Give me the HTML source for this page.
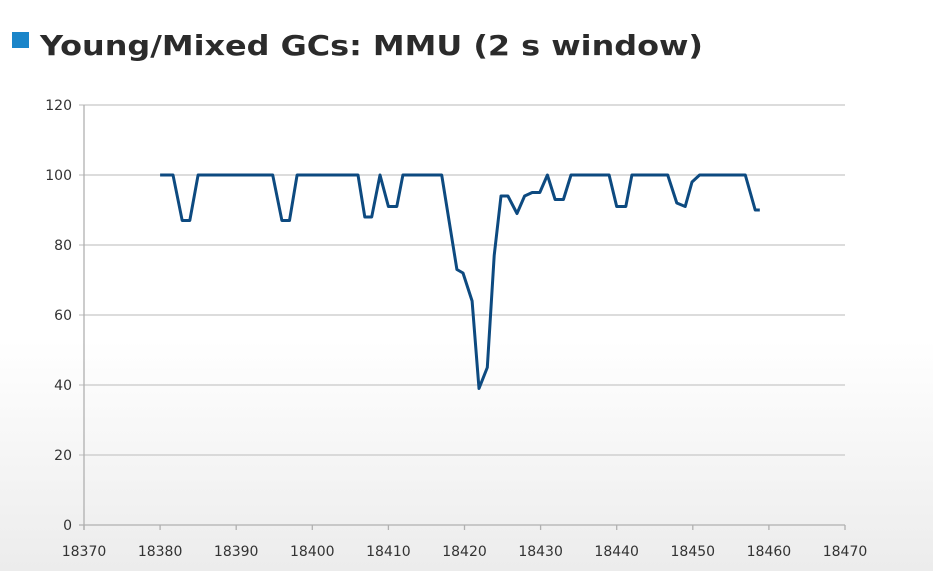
<!DOCTYPE html>
<html><head><meta charset="utf-8"><style>
html,body{margin:0;padding:0;}
body{width:933px;height:571px;overflow:hidden;background:linear-gradient(#fff 0,#fff 340px,#ececec 571px);}
svg{display:block}
</style></head><body>
<svg width="933" height="571">
<rect x="12" y="32" width="17" height="16" fill="#1a85c9"/>
<text x="40" y="55" font-family="DejaVu Sans, Liberation Sans, sans-serif" font-weight="bold" font-size="28" fill="#2b2b2b" textLength="663" lengthAdjust="spacingAndGlyphs">Young/Mixed GCs: MMU (2 s window)</text>
<g id="grid"></g>
<g id="axes"></g>
<path id="line" fill="none" stroke="#0d4a80" stroke-width="3" stroke-linejoin="round"/>
</svg>
<script>
const xVals=[18380,18381.7,18382.9,18383.9,18385,18394.8,18396,18397,18398,18406,18406.9,18407.8,18408.9,18410,18411.1,18411.9,18417,18419,18419.8,18421,18421.9,18423,18423.9,18424.8,18425.7,18426.9,18427.9,18428.9,18429.9,18430.9,18431.9,18433,18434,18439,18440,18441.2,18442,18446.7,18447.9,18449,18449.9,18450.9,18456.9,18458.2,18458.8];
const yVals=[100,100,87,87,100,100,87,87,100,100,88,88,100,91,91,100,100,73,72,64,39,45,77,94,94,89,94,95,95,100,93,93,100,100,91,91,100,100,92,91,98,100,100,90,90];
const xTicks=[18370,18380,18390,18400,18410,18420,18430,18440,18450,18460,18470];
const yTicks=[0,20,40,60,80,100,120];
const X0=84,X1=845,Y0=525,Y1=105;
const sx=v=>X0+(v-18370)/100*(X1-X0);
const sy=v=>Y0-(v/120)*(Y0-Y1);
const NS='http://www.w3.org/2000/svg';
const grid=document.getElementById('grid'),axes=document.getElementById('axes');
function mk(t,a,p){const e=document.createElementNS(NS,t);for(const k in a)e.setAttribute(k,a[k]);p.appendChild(e);return e;}
yTicks.forEach(v=>{
 const l=mk('line',{x1:X0-5,x2:X1,y1:sy(v),y2:sy(v),stroke:v===0?'#b0b0b0':'#c8c8c8','stroke-width':1.3},grid);
 
 
 const t=mk('text',{x:X0-12,y:sy(v)+5,'text-anchor':'end','font-family':'DejaVu Sans, Liberation Sans, sans-serif','font-size':14,fill:'#333'},axes);
 t.textContent=v;
 
 
});
const ya=mk('line',{x1:X0,x2:X0,y1:Y1,y2:Y0+5,stroke:'#b0b0b0','stroke-width':1.3},axes);


xTicks.forEach(v=>{
 const l=mk('line',{x1:sx(v),x2:sx(v),y1:Y0,y2:Y0+5,stroke:'#b0b0b0','stroke-width':1.3},axes);
 
 
 const t=mk('text',{x:sx(v),y:Y0+31,'text-anchor':'middle','font-family':'DejaVu Sans, Liberation Sans, sans-serif','font-size':14,fill:'#333'},axes);
 t.textContent=v;
 
 
});
document.getElementById('line').setAttribute('d',xVals.map((x,i)=>(i?'L':'M')+sx(x).toFixed(1)+','+sy(yVals[i]).toFixed(1)).join(''));
</script>
</body></html>
